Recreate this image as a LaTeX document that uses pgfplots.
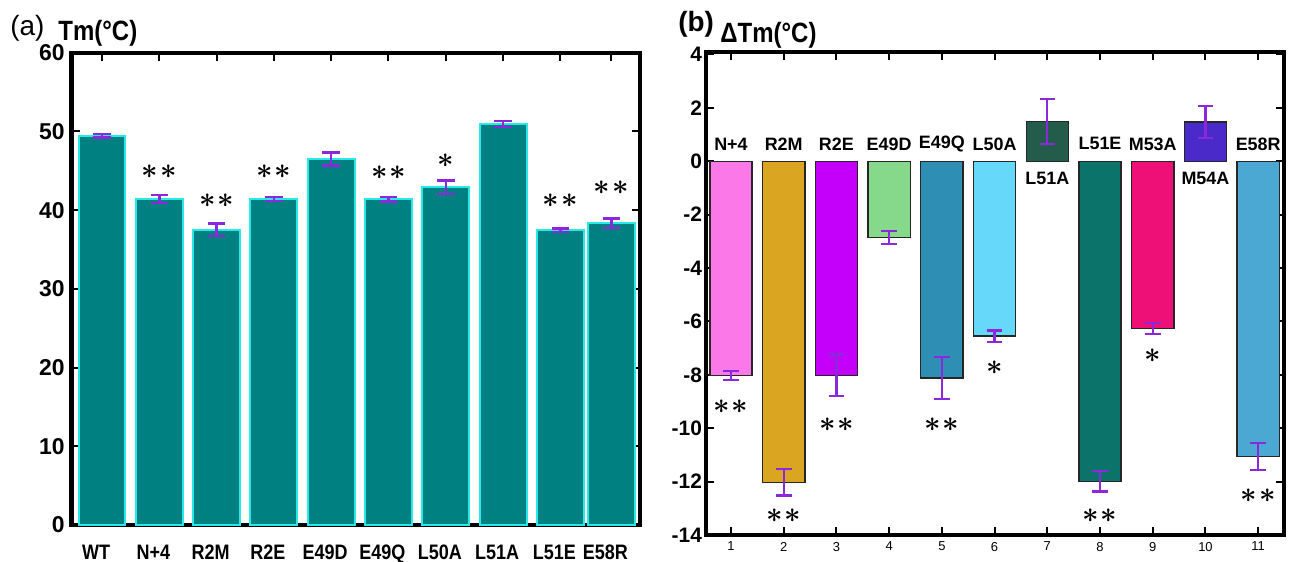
\documentclass[border=0pt]{standalone}
\usepackage{pgfplots}
\pgfplotsset{compat=1.18}
\usepackage{graphicx}
\usepackage{fontspec}
\setmainfont{Liberation Sans}

\definecolor{tealbar}{RGB}{0,128,128}
\definecolor{cyanedge}{RGB}{40,232,232}
\definecolor{errc}{RGB}{140,40,220}
\definecolor{cA}{RGB}{250,120,232}
\definecolor{cB}{RGB}{218,165,32}
\definecolor{cC}{RGB}{196,0,250}
\definecolor{cD}{RGB}{134,217,138}
\definecolor{cE}{RGB}{46,142,180}
\definecolor{cF}{RGB}{102,217,250}
\definecolor{cG}{RGB}{35,92,74}
\definecolor{cH}{RGB}{11,115,105}
\definecolor{cI}{RGB}{238,16,119}
\definecolor{cJ}{RGB}{74,42,200}
\definecolor{cK}{RGB}{75,168,211}

\newcommand\cond[1]{\scalebox{0.86}[1]{#1}}
\newcommand\sstar{$\ast$}
\newcommand\dstar{${\ast}\mkern1mu{\ast}$}
\tikzset{st/.style={inner sep=0pt, font=\fontsize{15}{15}\selectfont\boldmath}}

\pgfplotsset{
  ebA/.style={error bars/.cd, y dir=both, y explicit,
    error bar style={errc, line width=1.2bp},
    error mark options={errc, rotate=90, mark size=4.4bp, line width=1.2bp}},
  ebB/.style={error bars/.cd, y dir=both, y explicit,
    error bar style={errc, line width=1.1bp},
    error mark options={errc, rotate=90, mark size=3.9bp, line width=1.1bp}},
  barB/.style={ybar, bar width=0.8, bar shift=0pt, fill=#1, draw=black!85, line width=0.7bp, ebB},
}

\begin{document}
\begin{tikzpicture}
\useasboundingbox (0,0) rectangle (647.5bp,-281bp);
% titles
\node[anchor=west, inner sep=0pt, font=\fontsize{14}{14}\selectfont] at (5bp,-14bp) {(a)};
\node[anchor=west, inner sep=0pt, font=\fontsize{14}{14}\selectfont\bfseries] at (29bp,-16.5bp) {\cond{Tm(°C)}};
\node[anchor=west, inner sep=0pt, font=\fontsize{14}{14}\selectfont\bfseries] at (339bp,-12bp) {(b)};
\node[anchor=west, inner sep=0pt, font=\fontsize{14}{14}\selectfont\bfseries] at (360bp,-17.5bp) {\cond{ΔTm(°C)}};

% ---------- panel (a)
\begin{axis}[
  at={(35.85bp,-262.5bp)}, anchor=south west,
  scale only axis, width=284.15bp, height=236.15bp,
  xmin=0.471, xmax=10.39, ymin=0, ymax=60,
  ytick={0,10,20,30,40,50,60},
  xtick={1,2,3,4,5,6,7,8,9,9.89},
  xticklabels={\cond{WT},\cond{N+4},\cond{R2M},\cond{R2E},\cond{E49D},\cond{E49Q},\cond{L50A},\cond{L51A},\cond{L51E},\cond{E58R}},
  /pgf/number format/assume math mode=true,
  axis line style={line width=2.2bp},
  tick align=inside,
  major tick length=4bp,
  major tick style={black, line width=1bp},
  yticklabel style={font=\fontsize{11.5}{12}\selectfont\bfseries},
  xticklabel style={font=\fontsize{10.5}{11}\selectfont\bfseries, xshift=-3bp, yshift=-6.5bp},
  clip=false,
]
\addplot[ybar, bar width=0.82, bar shift=0pt, fill=tealbar, draw=cyanedge, line width=1bp, ebA]
coordinates {
  (1,49.47) +- (0,0.23)
  (2,41.42) +- (0,0.48)
  (3,37.50) +- (0,0.80)
  (4,41.42) +- (0,0.28)
  (5,46.50) +- (0,0.83)
  (6,41.38) +- (0,0.27)
  (7,42.90) +- (0,0.87)
  (8,50.95) +- (0,0.40)
  (9,37.45) +- (0,0.20)
  (9.89,38.33) +- (0,0.60)
};
\node[st] at (axis cs:2,44.9) {\dstar};
\node[st] at (axis cs:3,41.2) {\dstar};
\node[st] at (axis cs:4,44.9) {\dstar};
\node[st] at (axis cs:6,44.8) {\dstar};
\node[st] at (axis cs:7,46.3) {\sstar};
\node[st] at (axis cs:9,41.2) {\dstar};
\node[st] at (axis cs:9.89,42.8) {\dstar};
\end{axis}

% ---------- panel (b)
\begin{axis}[
  at={(353bp,-267.5bp)}, anchor=south west,
  scale only axis, width=289bp, height=241.5bp,
  xmin=0.526, xmax=11.49, ymin=-14, ymax=4.09,
  ytick={-14,-12,-10,-8,-6,-4,-2,0,2,4},
  xtick={1,2,3,4,5,6,7,8,9,10,11},
  /pgf/number format/assume math mode=true,
  axis line style={line width=1.9bp},
  tick align=inside,
  major tick length=4bp,
  major tick style={black, line width=1bp},
  yticklabel style={font=\fontsize{10.5}{11}\selectfont\bfseries, xshift=1.5bp},
  xticklabel style={font=\fontsize{6.5}{7}\selectfont},
  clip=false,
]
\addplot[barB=cA] coordinates {(1,-8.02) +- (0,0.17)};
\addplot[barB=cB] coordinates {(2,-12.03) +- (0,0.49)};
\addplot[barB=cC] coordinates {(3,-8.02) +- (0,0.78)};
\addplot[barB=cD] coordinates {(4,-2.85) +- (0,0.24)};
\addplot[barB=cE] coordinates {(5,-8.12) +- (0,0.78)};
\addplot[barB=cF] coordinates {(6,-6.55) +- (0,0.21)};
\addplot[barB=cG] coordinates {(7,1.49) +- (0,0.84)};
\addplot[barB=cH] coordinates {(8,-11.99) +- (0,0.38)};
\addplot[barB=cI] coordinates {(9,-6.26) +- (0,0.20)};
\addplot[barB=cJ] coordinates {(10,1.47) +- (0,0.60)};
\addplot[barB=cK] coordinates {(11,-11.05) +- (0,0.51)};
% bar names
\begin{scope}[every node/.style={font=\fontsize{9}{9}\selectfont\bfseries, inner sep=0pt}]
\node at (axis cs:1,0.65) {N+4};
\node at (axis cs:2,0.65) {R2M};
\node at (axis cs:3,0.65) {R2E};
\node at (axis cs:4,0.65) {E49D};
\node at (axis cs:5,0.65) {E49Q};
\node at (axis cs:6,0.65) {L50A};
\node at (axis cs:7,-0.63) {L51A};
\node at (axis cs:8,0.65) {L51E};
\node at (axis cs:9,0.65) {M53A};
\node at (axis cs:10,-0.63) {M54A};
\node at (axis cs:11,0.65) {E58R};
\end{scope}
% significance
\node[st] at (axis cs:1,-9.2) {\dstar};
\node[st] at (axis cs:2,-13.28) {\dstar};
\node[st] at (axis cs:3,-9.88) {\dstar};
\node[st] at (axis cs:5,-9.88) {\dstar};
\node[st] at (axis cs:6,-7.73) {\sstar};
\node[st] at (axis cs:8,-13.28) {\dstar};
\node[st] at (axis cs:9,-7.3) {\sstar};
\node[st] at (axis cs:11,-12.53) {\dstar};
\end{axis}
\end{tikzpicture}
\end{document}
